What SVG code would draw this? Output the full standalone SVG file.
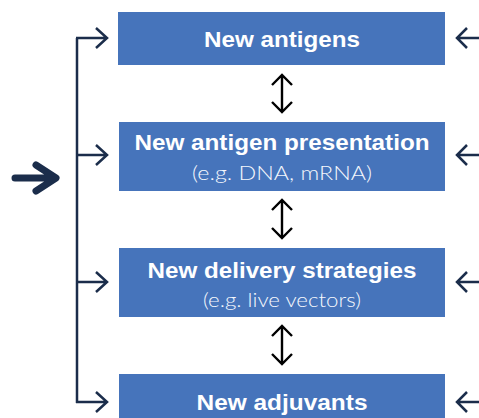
<svg xmlns="http://www.w3.org/2000/svg" width="479" height="418" viewBox="0 0 479 418">
<style>
.box{fill:#4674bb}
.t{font-family:"Liberation Sans",Arial,sans-serif;font-weight:bold;font-size:21.5px;fill:#ffffff;text-anchor:middle}
.s{font-family:Lato,"Liberation Sans",Arial,sans-serif;font-weight:300;font-size:19px;fill:#f5f8fd;text-anchor:middle}
.nv{fill:none;stroke:#1b2d4b;stroke-width:2.5;stroke-linecap:butt;stroke-linejoin:miter}
.bk{fill:none;stroke:#000000;stroke-width:2.4;stroke-linejoin:miter}
</style>
<rect width="479" height="418" fill="#ffffff"/>
<g id="node1">
<rect class="box" x="118" y="12" width="327" height="53"/>
<text class="t" x="282" y="47" textLength="156" lengthAdjust="spacingAndGlyphs">New antigens</text>
</g>
<g id="node2">
<rect class="box" x="119" y="122" width="326" height="69"/>
<text class="t" x="282" y="150" textLength="295" lengthAdjust="spacingAndGlyphs">New antigen presentation</text>
<text class="s" x="282" y="180" textLength="180" lengthAdjust="spacingAndGlyphs">(e.g. DNA, mRNA)</text>
</g>
<g id="node3">
<rect class="box" x="119" y="248" width="326" height="69"/>
<text class="t" x="282" y="278" textLength="269" lengthAdjust="spacingAndGlyphs">New delivery strategies</text>
<text class="s" x="282" y="307" textLength="158" lengthAdjust="spacingAndGlyphs">(e.g. live vectors)</text>
</g>
<g id="node4">
<rect class="box" x="119" y="374" width="326" height="50"/>
<text class="t" x="282" y="410" textLength="171" lengthAdjust="spacingAndGlyphs">New adjuvants</text>
</g>
<g id="connectors">
<path d="M15 178 H55 M36 165 L56 178 L36 191" fill="none" stroke="#1b2d4b" stroke-width="7" stroke-linecap="round" stroke-linejoin="round"/>
<path class="nv" d="M77 38 V403"/>
<path class="nv" d="M76 38 H107 M96 28 L107 38 L96 48"/>
<path class="nv" d="M76 155 H107 M96 145 L107 155 L96 165"/>
<path class="nv" d="M76 282 H107 M96 272 L107 282 L96 292"/>
<path class="nv" d="M76 402 H107 M96 392 L107 402 L96 412"/>
<path class="nv" d="M457 38 H479 M467 28 L457 38 L467 48"/>
<path class="nv" d="M457 155 H479 M467 145 L457 155 L467 165"/>
<path class="nv" d="M457 282 H479 M467 272 L457 282 L467 292"/>
<path class="nv" d="M457 402 H479 M467 392 L457 402 L467 412"/>
<path class="bk" d="M282 75 V112 M272 85 L282 75 L292 85 M272 102 L282 112 L292 102"/>
<path class="bk" d="M282 200 V238 M272 210 L282 200 L292 210 M272 228 L282 238 L292 228"/>
<path class="bk" d="M282 326 V364 M272 336 L282 326 L292 336 M272 354 L282 364 L292 354"/>
</g>
</svg>
